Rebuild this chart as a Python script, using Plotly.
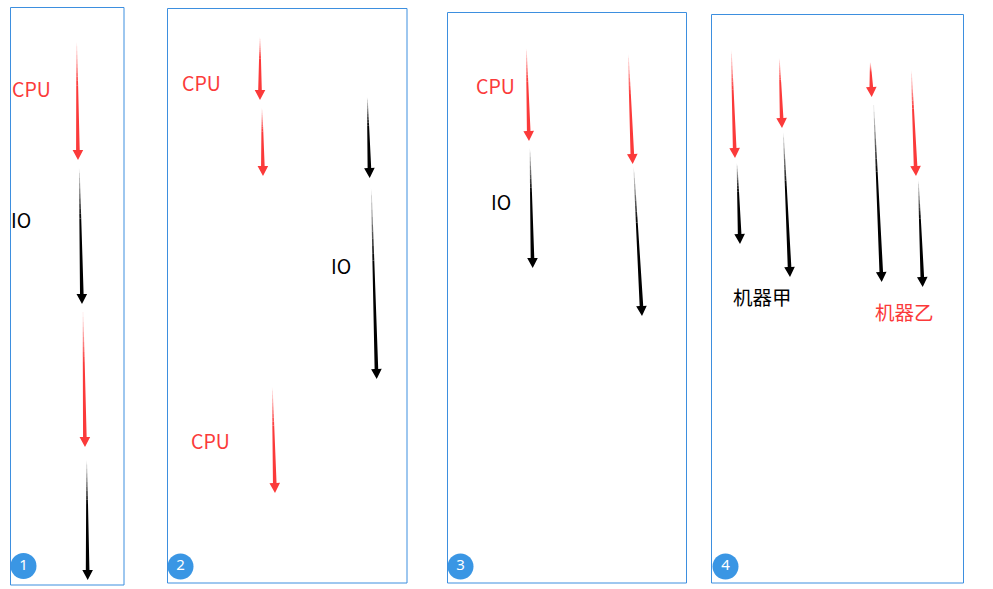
import numpy as np
import plotly.graph_objects as go

W, H = 993, 589
RED = "#fb3a3a"
BLACK = "#000000"
BLUE = "#3d8fdf"
BADGE = "#3a96e4"

# Panel frames
box_x0 = [10.5, 167.5, 447.5, 711.5]
box_x1 = [124.0, 407.0, 686.5, 963.5]
box_y0 = [7.5, 8.5, 12.5, 14.5]
box_y1 = [585.0, 583.0, 583.0, 583.0]

# Panel badges
badge_x = [23.5, 180.5, 460.5, 725.5]
badge_y = [566.0, 566.5, 566.5, 566.5]
badge_text = ["1", "2", "3", "4"]

# Arrows (start -> end) and kind
arrow_x0 = [76.7, 79.3, 83.0, 86.7,
            260.0, 262.0, 367.3, 371.3, 272.3,
            526.3, 530.0, 628.3, 633.7,
            731.3, 737.0, 779.3, 783.3, 870.3, 873.7, 911.3, 918.3]
arrow_y0 = [42, 168, 312, 460,
            37, 108, 97, 188, 387,
            48, 148, 54, 167,
            50, 163, 58, 132, 62, 105, 70, 180]
arrow_x1 = [78.0, 82.0, 85.0, 87.7,
            260.0, 263.0, 369.7, 376.7, 275.0,
            529.0, 532.7, 632.7, 642.0,
            735.0, 740.0, 782.0, 790.0, 871.7, 881.7, 916.0, 922.7]
arrow_y1 = [160, 304, 447, 580,
            100, 176, 178, 379, 493,
            141, 268, 164, 316,
            158, 244, 128, 277, 97, 282, 176, 287]
arrow_kind = ["cpu", "io", "cpu", "io",
              "cpu", "cpu", "io", "io", "cpu",
              "cpu", "io", "cpu", "io",
              "cpu", "io", "cpu", "io", "cpu", "io", "cpu", "io"]

# Labels
label_text = ["CPU", "IO", "CPU", "IO", "CPU", "CPU", "IO", "机器甲", "机器乙"]
label_x = [10, 9, 179.5, 329, 188.5, 473.5, 488.5, 730.5, 873]
label_y = [88, 219, 82, 265, 440.5, 85.5, 201, 296, 311]
label_kind = ["cpu", "io", "cpu", "io", "cpu", "cpu", "io", "io", "cpu"]

COLORS = {"cpu": (251, 58, 58), "io": (0, 0, 0)}

fig = go.Figure()


def poly(pts, rgba):
    fig.add_trace(go.Scatter(
        x=[p[0] for p in pts] + [pts[0][0]], y=[p[1] for p in pts] + [pts[0][1]],
        mode="lines", fill="toself",
        line=dict(width=0, color="rgba(0,0,0,0)"),
        fillcolor=rgba, hoverinfo="skip", showlegend=False))


def add_arrow(x0, y0, x1, y1, rgb):
    p0 = np.array([x0, y0], float)
    p1 = np.array([x1, y1], float)
    d = p1 - p0
    L = np.hypot(*d)
    d /= L
    n = np.array([-d[1], d[0]])
    head_len, head_w = 10.0, 5.3
    base = p1 - d * head_len
    w_top, w_base = 0.35, 1.8
    shaft_len = L - head_len
    nseg = 10
    fade_frac = 0.4

    def w_at(t):
        return w_top + (w_base - w_top) * t

    for i in range(nseg):
        t0 = fade_frac * i / nseg
        t1 = fade_frac * (i + 1) / nseg
        a = p0 + d * shaft_len * t0
        b = p0 + d * shaft_len * t1
        tm = (t0 + t1) / 2
        alpha = 0.06 + 0.94 * tm / fade_frac
        poly([a + n * w_at(t0), b + n * w_at(t1), b - n * w_at(t1), a - n * w_at(t0)],
             f"rgba({rgb[0]},{rgb[1]},{rgb[2]},{alpha:.3f})")
    tf = fade_frac
    a = p0 + d * shaft_len * tf
    c = f"rgb({rgb[0]},{rgb[1]},{rgb[2]})"
    poly([a + n * w_at(tf), base + n * w_base, base + n * head_w, p1,
          base - n * head_w, base - n * w_base, a - n * w_at(tf)], c)


for x0, y0, x1, y1, k in zip(arrow_x0, arrow_y0, arrow_x1, arrow_y1, arrow_kind):
    add_arrow(x0, y0, x1, y1, COLORS[k])

for x0, x1, y0, y1 in zip(box_x0, box_x1, box_y0, box_y1):
    fig.add_shape(type="rect", xref="x", yref="y", x0=x0, x1=x1, y0=y0, y1=y1,
                  line=dict(color=BLUE, width=1), fillcolor="rgba(0,0,0,0)")

fig.add_trace(go.Scatter(
    x=badge_x, y=badge_y, mode="markers+text", text=badge_text,
    marker=dict(size=26, color=BADGE, line=dict(width=0)),
    textfont=dict(color="white", size=15, family="Noto Sans"),
    textposition="middle center", hoverinfo="skip", showlegend=False))

for t, x, y, k in zip(label_text, label_x, label_y, label_kind):
    c = RED if k == "cpu" else BLACK
    fig.add_annotation(x=x, y=y, xref="x", yref="y", text=t, showarrow=False,
                       xanchor="left", yanchor="middle",
                       font=dict(size=19.5, color=c, family="Noto Sans CJK SC"))

fig.update_layout(
    width=W, height=H, margin=dict(l=0, r=0, t=0, b=0),
    paper_bgcolor="white", plot_bgcolor="white",
    xaxis=dict(range=[0, W], visible=False, fixedrange=True),
    yaxis=dict(range=[H, 0], visible=False, fixedrange=True),
)

fig.write_html("out.html", config={"displayModeBar": False},
               post_script="document.body.style.margin='0';")
